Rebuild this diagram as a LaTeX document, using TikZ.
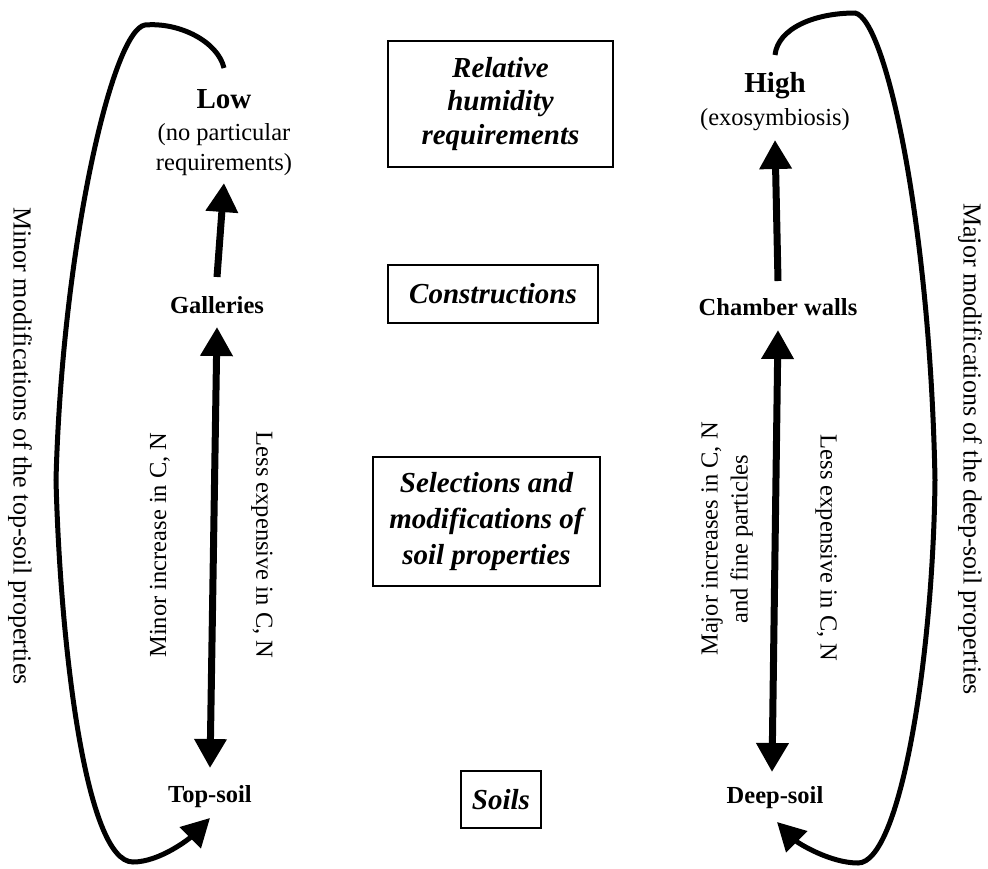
\documentclass[tikz,border=0pt]{standalone}
\usepackage{fontspec}
\setmainfont{Liberation Serif}
\usetikzlibrary{arrows.meta}
\begin{document}
\begin{tikzpicture}[x=1pt,y=-1pt,
  lbl/.style={inner sep=0, font=\fontsize{24.5}{30}\selectfont\bfseries},
  big/.style={inner sep=0, font=\fontsize{29}{32}\selectfont\bfseries},
  sub/.style={inner sep=0, align=center, font=\fontsize{24.5}{30}\selectfont},
  side/.style={inner sep=0, font=\fontsize{26}{30}\selectfont},
  box/.style={draw, line width=1.4pt, align=center, inner sep=0, font=\fontsize{29}{32}\selectfont\bfseries\itshape},
  arr/.style={line width=7pt, -{Triangle[length=29pt,width=31pt]}},
  darr/.style={line width=7pt, {Triangle[length=29pt,width=31pt]}-{Triangle[length=29pt,width=31pt]}},
  loopy/.style={line width=5pt, -{Triangle[length=28pt,width=29pt]}}]
\useasboundingbox (0,0) rectangle (988,868);

% left column
\node[big] (low) at (224,99) {Low};
\node[sub] (lowsub) at (224,150) {(no particular\\requirements)};
\node[lbl] (galleries) at (217,305) {Galleries};
\node[lbl] (topsoil) at (210,797) {Top-soil};

% right column
\node[big] (high) at (775,86) {High};
\node[sub] (highsub) at (775,120) {(exosymbiosis)};
\node[lbl] (chamber) at (778,307) {Chamber walls};
\node[lbl] (deepsoil) at (775,798) {Deep-soil};

% central boxes
\node[box, minimum width=225, minimum height=126, font=\fontsize{29}{33.5}\selectfont\bfseries\itshape] (rh) at (500.5,104) {Relative\\humidity\\requirements};
\node[box, minimum width=210, minimum height=58] (constr) at (493,294) {Constructions};
\node[box, minimum width=227, minimum height=129, font=\fontsize{29}{36}\selectfont\bfseries\itshape] (sel) at (486.5,521.5) {Selections and\\modifications of\\soil properties};
\node[box, minimum width=80, minimum height=57] (soils) at (501,799.5) {Soils};

% rotated labels
\node[sub, rotate=90] (minorinc) at (160,545) {Minor increase in C, N};
\node[sub, rotate=-90] (lessL) at (262,545) {Less expensive in C, N};
\node[sub, rotate=90] (majorinc) at (727,539) {Major increases in C, N\\and fine particles};
\node[sub, rotate=-90] (lessR) at (826,548) {Less expensive in C, N};
\node[side, rotate=-90] (minormod) at (20,446) {Minor modifications of the top-soil properties};
\node[side, rotate=-90] (majormod) at (970,449) {Major modifications of the deep-soil properties};

% straight arrows
\draw[arr] ([yshift=28pt]galleries.center) -- ([yshift=-33pt]lowsub.center);
\draw[darr] ([yshift=-22pt]galleries.center) -- ([yshift=29pt]topsoil.center);
\draw[arr] ([yshift=26pt]chamber.center) -- ([yshift=-20pt]highsub.center);
\draw[darr] ([yshift=-23pt]chamber.center) -- ([xshift=-3pt,yshift=26pt]deepsoil.center);

% loops
\draw[loopy] ([yshift=31pt]low.center) .. controls (218,42) and (180,22) .. (145,25)
  .. controls (112,30) and (62,250) .. (56,480)
  .. controls (60,640) and (85,862) .. (133,862)
  .. controls (160,862) and (190,838) .. ([yshift=-21pt]topsoil.center);
\draw[loopy] ([yshift=31pt]high.center) .. controls (778,28) and (815,13) .. (855,13)
  .. controls (885,18) and (930,220) .. (935,480)
  .. controls (933,660) and (900,863) .. (858,863)
  .. controls (830,863) and (798,843) .. ([xshift=2pt,yshift=-24pt]deepsoil.center);
\end{tikzpicture}
\end{document}
